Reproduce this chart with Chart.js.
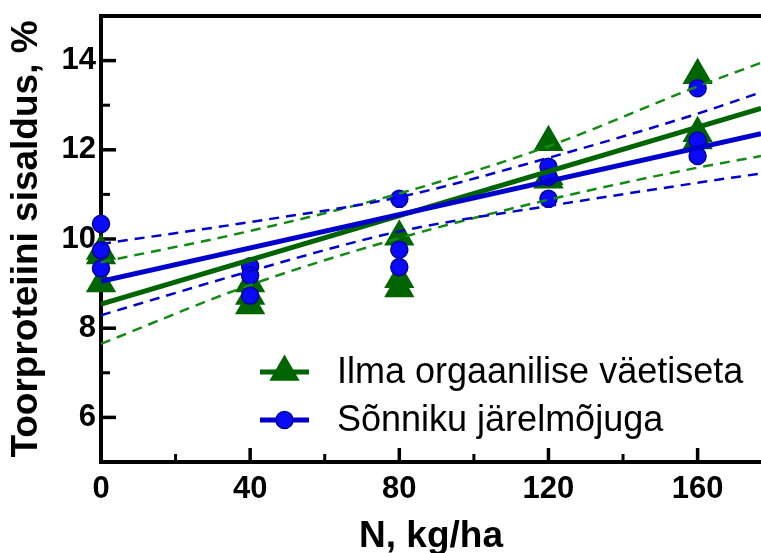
<!DOCTYPE html>
<html>
<head>
<meta charset="utf-8">
<script src="https://cdn.jsdelivr.net/npm/chart.js@4.4.1/dist/chart.umd.min.js"></script>
<style>
  html, body { margin: 0; padding: 0; background: #fff; }
  #wrap { width: 761px; height: 553px; }
</style>
</head>
<body>
<div id="wrap"><canvas id="chart" width="761" height="553"></canvas></div>
<script>
/* global Chart */

// N rates (kg/ha) and axis ticks
const nLevels = [0, 40, 80, 120, 160];
const xTickValues = [0, 40, 80, 120, 160];
const xMinorTicks = [20, 60, 100, 140];
const yTickValues = [6, 8, 10, 12, 14];
const yMinorTicks = [7, 9, 11, 13];

const seriesLabels = ['Ilma orgaanilise väetiseta', 'Sõnniku järelmõjuga'];

// replicates for every N level
const ilmaValues = [
    [9.73, 9.63, 9.0],
    [9.0, 8.72, 8.51],
    [10.05, 9.1, 8.89],
    [12.17, 11.4, 11.33],
    [13.67, 12.37, 12.21]
];
const sonnikValues = [
    [10.34, 9.75, 9.34],
    [9.39, 9.18, 8.73],
    [10.9, 9.76, 9.37],
    [11.62, 11.39, 10.9],
    [13.38, 12.21, 11.86]
];

// regression lines and confidence bands
const fitX = [0, 177];
const ilmaFit = [8.54, 12.93];
const sonnikFit = [9.05, 12.36];
const bandX = [0, 40, 80, 120, 160, 177];
const ilmaUpper = [9.48, 10.18, 11.02, 12.08, 13.42, 13.95];
const ilmaLower = [7.65, 8.97, 10.02, 10.88, 11.60, 11.86];
const sonnikUpper = [9.89, 10.38, 10.94, 11.82, 12.81, 13.29];
const sonnikLower = [8.29, 9.28, 10.17, 10.74, 11.26, 11.47];

const FONT = "'Liberation Sans', Arial, Helvetica, sans-serif";
const GREEN = '#006400';
const GREEN_DASH = '#138a13';
const BLUE = '#0000cc';
const BLUE_FILL = '#0a0af5';
const BLUE_EDGE = '#00009c';

const toPoints = (xs, ys) => xs.map((x, i) => ({ x: x, y: ys[i] }));
const replicatePoints = (values) => {
    const pts = [];
    nLevels.forEach((n, i) => {
        values[i].forEach(v => pts.push({ x: n, y: v }));
    });
    return pts;
};

const lineDataset = (data, color, width, dash, order) => ({
    data: data,
    showLine: true,
    borderColor: color,
    borderWidth: width,
    borderDash: dash,
    pointRadius: 0,
    fill: false,
    cubicInterpolationMode: 'monotone',
    order: order
});

// tick marks pointing into the plot, plus the top frame line
const innerTicks = {
    id: 'innerTicks',
    beforeDatasetsDraw(chart) {
        const { ctx, chartArea } = chart;
        const xs = chart.scales.x;
        const ys = chart.scales.y;
        ctx.save();
        ctx.strokeStyle = '#000';
        const tickX = (vals, len, w) => {
            ctx.lineWidth = w;
            vals.forEach(v => {
                const px = xs.getPixelForValue(v);
                ctx.beginPath();
                ctx.moveTo(px, chartArea.bottom);
                ctx.lineTo(px, chartArea.bottom - len);
                ctx.stroke();
            });
        };
        const tickY = (vals, len, w) => {
            ctx.lineWidth = w;
            vals.forEach(v => {
                const py = ys.getPixelForValue(v);
                ctx.beginPath();
                ctx.moveTo(chartArea.left, py);
                ctx.lineTo(chartArea.left + len, py);
                ctx.stroke();
            });
        };
        tickX(xTickValues, 14, 3.5);
        tickX(xMinorTicks, 8, 3);
        tickY(yTickValues, 15, 3.5);
        tickY(yMinorTicks, 9, 3);

        ctx.lineWidth = 4;
        ctx.beginPath();
        ctx.moveTo(chartArea.left - 2, chartArea.top);
        ctx.lineTo(chartArea.right, chartArea.top);
        ctx.stroke();
        ctx.restore();
    }
};

// legend drawn inside the plot area
const insetLegend = {
    id: 'insetLegend',
    afterDraw(chart) {
        const ctx = chart.ctx;
        const entries = [
            { label: seriesLabels[0], color: GREEN, fill: GREEN, edge: GREEN, style: 'triangle', radius: 17.5, y: 372 },
            { label: seriesLabels[1], color: BLUE, fill: BLUE_FILL, edge: BLUE_EDGE, style: 'circle', radius: 8.5, y: 420 }
        ];
        ctx.save();
        entries.forEach(item => {
            ctx.strokeStyle = item.color;
            ctx.lineWidth = 5;
            ctx.beginPath();
            ctx.moveTo(260, item.y);
            ctx.lineTo(309, item.y);
            ctx.stroke();

            ctx.fillStyle = item.fill;
            ctx.strokeStyle = item.edge;
            ctx.lineWidth = 1.5;
            Chart.helpers.drawPoint(ctx, {
                pointStyle: item.style,
                radius: item.radius,
                rotation: 0,
                borderWidth: item.style === 'circle' ? 1.5 : 0
            }, 284.5, item.y);

            ctx.fillStyle = '#000';
            ctx.font = '36px ' + FONT;
            ctx.textAlign = 'left';
            ctx.textBaseline = 'middle';
            ctx.fillText(item.label, 337, item.y + 1);
        });
        ctx.restore();
    }
};

const elementCanvas = document.getElementById('chart');

const chart = new Chart(elementCanvas, { // eslint-disable-line no-unused-vars
    type: 'scatter',
    data: {
        datasets: [
            lineDataset(toPoints(fitX, sonnikFit), BLUE, 5, [], 0),
            lineDataset(toPoints(fitX, ilmaFit), GREEN, 5, [], 1),
            lineDataset(toPoints(bandX, sonnikUpper), BLUE, 2.5, [10, 7], 2),
            lineDataset(toPoints(bandX, sonnikLower), BLUE, 2.5, [10, 7], 2),
            lineDataset(toPoints(bandX, ilmaUpper), GREEN_DASH, 2.5, [10, 7], 3),
            lineDataset(toPoints(bandX, ilmaLower), GREEN_DASH, 2.5, [10, 7], 3),
            {
                label: seriesLabels[1],
                data: replicatePoints(sonnikValues),
                pointStyle: 'circle',
                pointRadius: 8.5,
                backgroundColor: BLUE_FILL,
                borderColor: BLUE_EDGE,
                borderWidth: 1.5,
                clip: false,
                order: 5
            },
            {
                label: seriesLabels[0],
                data: replicatePoints(ilmaValues),
                pointStyle: 'triangle',
                pointRadius: 17.5,
                backgroundColor: GREEN,
                borderColor: GREEN,
                borderWidth: 0,
                clip: false,
                order: 6
            }
        ]
    },
    options: {
        responsive: false,
        devicePixelRatio: 1,
        animation: false,
        events: [],
        layout: {
            autoPadding: false,
            padding: { top: 16, right: 0, bottom: 0, left: 0 }
        },
        plugins: {
            legend: { display: false },
            tooltip: { enabled: false }
        },
        scales: {
            x: {
                type: 'linear',
                min: 0,
                max: 177,
                afterBuildTicks: (scale) => {
                    scale.ticks = xTickValues.map(v => ({ value: v }));
                },
                afterFit: (scale) => {
                    scale.height = 91;
                    scale.paddingLeft = 0;
                    scale.paddingRight = 0;
                },
                grid: { display: false, drawTicks: false },
                border: { display: true, color: '#000', width: 4 },
                ticks: {
                    autoSkip: false,
                    maxRotation: 0,
                    padding: 9,
                    color: '#000',
                    font: { family: FONT, size: 31, weight: 'bold' }
                },
                title: {
                    display: true,
                    text: 'N, kg/ha',
                    color: '#000',
                    padding: { top: 0, bottom: 0 },
                    font: { family: FONT, size: 37, weight: 'bold', lineHeight: 0.85 }
                }
            },
            y: {
                type: 'linear',
                min: 5,
                max: 15,
                afterBuildTicks: (scale) => {
                    scale.ticks = yTickValues.map(v => ({ value: v }));
                },
                afterFit: (scale) => {
                    scale.width = 101;
                    scale.paddingTop = 0;
                    scale.paddingBottom = 0;
                },
                grid: { display: false, drawTicks: false },
                border: { display: true, color: '#000', width: 4 },
                ticks: {
                    padding: 5,
                    color: '#000',
                    font: { family: FONT, size: 31, weight: 'bold' }
                },
                title: {
                    display: true,
                    text: 'Toorproteiini sisaldus, %',
                    color: '#000',
                    padding: { top: 8, bottom: 0 },
                    font: { family: FONT, size: 37, weight: 'bold', lineHeight: 1 }
                }
            }
        }
    },
    plugins: [innerTicks, insetLegend]
});
</script>
</body>
</html>
